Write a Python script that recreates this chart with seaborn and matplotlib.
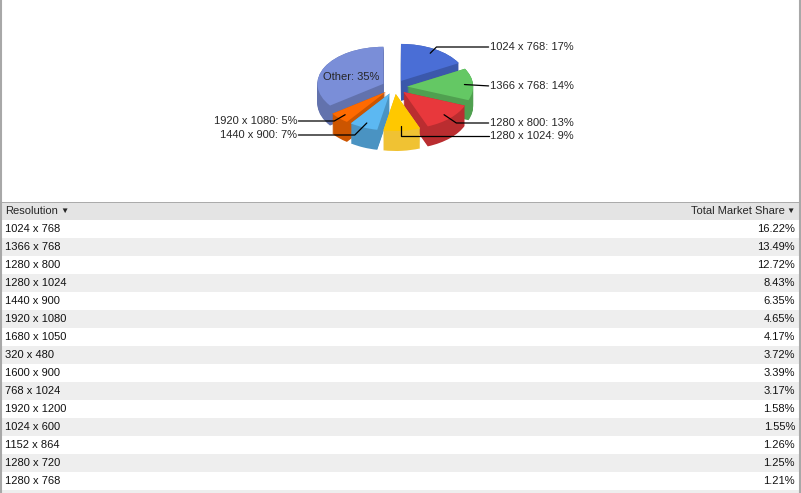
import matplotlib
matplotlib.use("Agg")
import matplotlib.pyplot as plt
from matplotlib.lines import Line2D
import numpy as np
import seaborn as sns

sns.set_style("white")
plt.rcParams['font.family'] = ['Liberation Sans', 'DejaVu Sans']

# pie data
pie_labels = ['1024 x 768', '1366 x 768', '1280 x 800', '1280 x 1024',
              '1440 x 900', '1920 x 1080', 'Other']
pie_pct = [17, 14, 13, 9, 7, 5, 35]

# table data
resolutions = ['1024 x 768', '1366 x 768', '1280 x 800', '1280 x 1024', '1440 x 900',
               '1920 x 1080', '1680 x 1050', '320 x 480', '1600 x 900', '768 x 1024',
               '1920 x 1200', '1024 x 600', '1152 x 864', '1280 x 720', '1280 x 768']
market_share = [16.22, 13.49, 12.72, 8.43, 6.35, 4.65, 4.17, 3.72, 3.39, 3.17,
                1.58, 1.55, 1.26, 1.25, 1.21]

top_colors = sns.color_palette(['#4a6ed6', '#64c864', '#e8383c', '#ffc800',
                                '#5cb8f2', '#ff6a00', '#7a8ed8'])
side_colors = [tuple(c * 0.8 for c in col) for col in top_colors]
side_colors[3] = (0.94, 0.76, 0.2)

W, H = 801, 493
fig = plt.figure(figsize=(W / 100, H / 100), dpi=100)
fig.patch.set_facecolor('white')

# ---- 3d-ish pie ----
cx, cy, rx, ry = 394.6, 87, 66, 37   # pixel layout of the pie top
px0, px1, py0, py1 = 295, 495, 20, 180
ax = fig.add_axes([px0 / W, (H - py1) / H, (px1 - px0) / W, (py1 - py0) / H])
explode = [0.19] * len(pie_pct)
depth = 20 / ry
nlay = 22
for z in np.linspace(-depth, 0, nlay):
    ax.pie(pie_pct, colors=side_colors, explode=explode, startangle=90,
           counterclock=False, center=(0, z), wedgeprops=dict(linewidth=0))
wedges, _ = ax.pie(pie_pct, colors=top_colors, explode=explode, startangle=90,
                   counterclock=False, center=(0, 0), wedgeprops=dict(linewidth=0))
ax.set_aspect('auto')
ax.set_xlim(-(cx - px0) / rx, (px1 - cx) / rx)
ax.set_ylim(-(py1 - cy) / ry, (cy - py0) / ry)
ax.axis('off')

# label layout: (text x, text y) in pixels from top-left, side, connection angle
label_pos = [(490, 47, 'l', 45), (490, 86, 'l', None), (490, 123, 'l', -34),
             (490, 136, 'l', 90), (297, 135, 'r', 45), (297, 121, 'r', 30)]
for w, lab, pct, e, pos in zip(wedges, pie_labels, pie_pct, explode, label_pos):
    mid = np.deg2rad((w.theta1 + w.theta2) / 2)
    r = 0.87 + e
    xy = (r * np.cos(mid), r * np.sin(mid))
    tx, ty, side, ang = pos
    cs = 'arc3,rad=0' if ang is None else f'angle,angleA=0,angleB={ang},rad=0'
    ax.annotate(f'{lab}: {pct}%', xy=xy, xycoords='data',
                xytext=(tx, H - ty), textcoords='figure pixels',
                ha='left' if side == 'l' else 'right', va='center', fontsize=8,
                annotation_clip=False,
                arrowprops=dict(arrowstyle='-', color='black', lw=0.9, patchA=None,
                                shrinkA=1, shrinkB=0,
                                relpos=(0, 0.5) if side == 'l' else (1, 0.5),
                                connectionstyle=cs))
w = wedges[-1]
mid = np.deg2rad((w.theta1 + w.theta2) / 2)
ax.text((0.55 + explode[-1]) * np.cos(mid), (0.4 + explode[-1]) * np.sin(mid),
        f'{pie_labels[-1]}: {pie_pct[-1]}%', ha='center', va='center', fontsize=8)

# ---- table ----
row_h = 18
top = 202
tax = fig.add_axes([0, 0, 1, (H - top) / H])
tax.set_xlim(0, W)
tax.set_ylim((H - top) / row_h - 1, -1)
tax.axis('off')
tax.axhspan(-1, 0, color='#e4e4e4', lw=0)
for i in range(len(resolutions) + 1):
    if i % 2 == 1:
        tax.axhspan(i, i + 1, color='#eeeeee', lw=0)
tax.axhline(-1, color='#a0a0a0', lw=1.2)
tax.text(5, -0.5, 'Resolution', ha='left', va='center', fontsize=8)
tax.text(60, -0.5, '\u25BC', ha='left', va='center', fontsize=6)
tax.text(785, -0.5, 'Total Market Share', ha='right', va='center', fontsize=8)
tax.text(795, -0.5, '\u25BC', ha='right', va='center', fontsize=6)
for i, (res, v) in enumerate(zip(resolutions, market_share)):
    tax.text(5, i + 0.5, res, ha='left', va='center', fontsize=8, color='#111111')
    tax.text(795, i + 0.5, f'{v:.2f}%', ha='right', va='center', fontsize=8, color='#111111')

fig.add_artist(Line2D([0.8 / W, 0.8 / W], [0, 1], transform=fig.transFigure,
                      color='#a8a8a8', lw=1.5))
fig.add_artist(Line2D([799.5 / W, 799.5 / W], [0, 1], transform=fig.transFigure,
                      color='#a8a8a8', lw=1.5))

fig.savefig('out.png', dpi=100)
